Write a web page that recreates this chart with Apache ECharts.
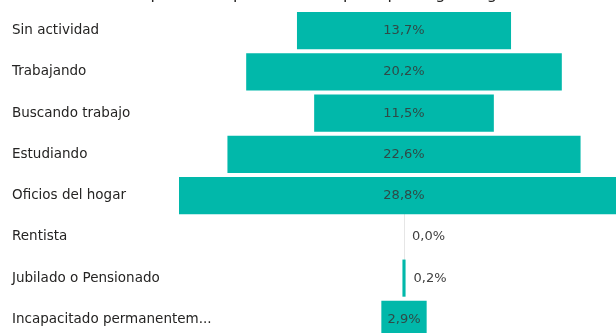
<!DOCTYPE html>
<html>
<head>
<meta charset="utf-8">
<script src="https://cdn.jsdelivr.net/npm/echarts@6/dist/echarts.min.js"></script>
<style>
  html, body { margin: 0; padding: 0; background: #ffffff; }
  #chart { width: 616px; height: 333px; }
</style>
</head>
<body>
<div id="chart"></div>
<script>
// Actividad principal: porcentaje de personas por categoría
const categories = [
  'Sin actividad',
  'Trabajando',
  'Buscando trabajo',
  'Estudiando',
  'Oficios del hogar',
  'Rentista',
  'Jubilado o Pensionado',
  'Incapacitado permanentem...'
];
const values = [13.7, 20.2, 11.5, 22.6, 28.8, 0.0, 0.2, 2.9];
const chartTitle = 'Distribución de la población por actividad principal según registro';

// Widest bar sets the axis span; every bar is centred on half of it
const span = Math.max(...values);
const offsets = values.map(v => (span - v) / 2);

const fmt = v => v.toFixed(1).replace('.', ',') + '%';

const chart = echarts.init(document.getElementById('chart'));
chart.setOption({
  animation: false,
  title: {
    text: chartTitle,
    left: 0,
    top: -18,
    textStyle: { fontFamily: 'DejaVu Sans', fontSize: 16, fontWeight: 'normal', color: '#252423' }
  },
  grid: { left: 179, width: 450, top: 10, height: 330, outerBoundsMode: 'none', containLabel: false },
  xAxis: {
    type: 'value',
    min: 0,
    max: span,
    show: false
  },
  yAxis: {
    type: 'category',
    data: categories,
    inverse: true,
    axisLine: { show: false },
    axisTick: { show: false },
    splitLine: { show: false },
    axisLabel: {
      align: 'left',
      margin: 167,
      color: '#252423',
      fontFamily: 'DejaVu Sans',
      fontSize: 13.5
    }
  },
  series: [
    {
      name: 'base',
      type: 'bar',
      stack: 'funnel',
      data: offsets,
      barCategoryGap: '10%',
      itemStyle: { color: 'transparent' },
      silent: true,
      z: 1,
      markLine: {
        silent: true,
        z: 0,
        symbol: 'none',
        label: { show: false },
        lineStyle: { color: '#e6e6e6', width: 1, type: 'solid' },
        data: [[{ coord: [span / 2, 4] }, { coord: [span / 2, 6] }]]
      }
    },
    {
      name: 'Porcentaje',
      type: 'bar',
      stack: 'funnel',
      barCategoryGap: '10%',
      z: 2,
      data: values.map(v => ({
        value: v,
        label: v < 2
          ? { position: 'right', distance: 8, color: '#404040' }
          : { position: 'inside', color: '#2f4a47' }
      })),
      itemStyle: { color: '#01B8AA' },
      label: {
        show: true,
        fontFamily: 'DejaVu Sans',
        fontSize: 13,
        formatter: p => fmt(p.value)
      }
    }
  ]
});
</script>
</body>
</html>
